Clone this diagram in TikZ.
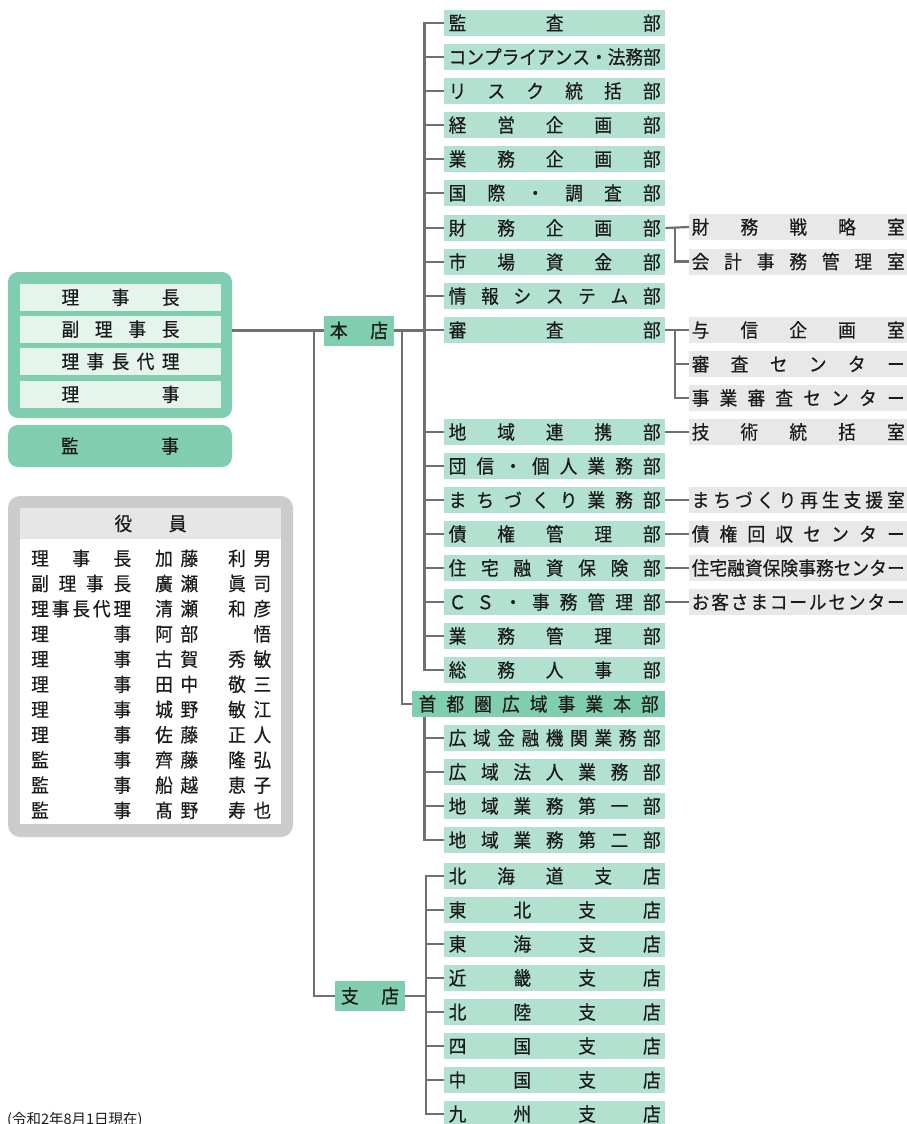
\documentclass[tikz,border=0pt]{standalone}
\usepackage{fontspec}
\setmainfont{Noto Sans CJK JP}[FakeStretch=0.93, FakeBold=0.4]
\newfontfamily\notefont{Noto Sans CJK JP}
\definecolor{deptc}{RGB}{178,225,208}
\definecolor{hqc}{RGB}{128,205,176}
\definecolor{rowc}{RGB}{230,244,238}
\definecolor{subc}{RGB}{232,232,232}
\definecolor{framec}{RGB}{204,204,204}
\definecolor{headc}{RGB}{230,230,230}
\definecolor{linec}{RGB}{112,112,112}
\definecolor{txtc}{RGB}{26,26,26}
\makeatletter
\def\spreadchars#1{\spr@a#1\spr@end}
\def\spr@a#1#2\spr@end{#1\if\relax\detokenize{#2}\relax\else\hfill\spr@a#2\spr@end\fi}
\makeatother
\newcommand\spreadbox[2]{\hbox to #1{\expandafter\spreadchars\expandafter{#2}}}
\newcommand\deptfont{\fontsize{19}{20}\selectfont}
\newcommand\listfont{\fontsize{19}{20}\selectfont}
\tikzset{
  conn/.style={draw=linec, line width=2.2pt},
  dept/.style={fill=deptc, minimum width=221pt, minimum height=26pt, inner sep=0pt, anchor=west, text=txtc, font=\deptfont},
  subbox/.style={fill=subc, minimum width=218pt, minimum height=26pt, inner sep=0pt, anchor=west, text=txtc, font=\deptfont},
  hq/.style={fill=hqc, inner sep=0pt, text=txtc, font=\deptfont},
  rowbox/.style={fill=rowc, minimum width=201pt, minimum height=27pt, inner sep=0pt, text=txtc, font=\deptfont},
  panel/.style={fill=hqc, rounded corners=10pt, minimum width=224pt, inner sep=0pt, text=txtc, font=\deptfont},
}
\begin{document}
\begin{tikzpicture}[x=1pt,y=-1pt]
\useasboundingbox (0,0) rectangle (907,1124);
% left panel
\node[panel, minimum height=146pt] (board) at (120,345) {};
\node[rowbox] (r1) at (120.5,297.3) {\spreadbox{118pt}{理事長}};
\node[rowbox] (r2) at (120.5,329.2) {\spreadbox{118pt}{副理事長}};
\node[rowbox] (r3) at (120.5,361.4) {\spreadbox{118pt}{理事長代理}};
\node[rowbox] (r4) at (120.5,394.3) {\spreadbox{118pt}{理事}};
\node[panel, minimum height=42pt] (kanji) at (120,446) {\spreadbox{118pt}{監事}};
% officers
\node[fill=framec, rounded corners=12pt, minimum width=285pt, minimum height=341pt, inner sep=0pt] (ofr) at (150.5,666.5) {};
\node[fill=white, minimum width=261pt, minimum height=316pt, inner sep=0pt] (oin) at (150.5,666) {};
\node[fill=headc, minimum width=261pt, minimum height=31pt, inner sep=0pt, anchor=north, text=txtc, font=\deptfont] (ohead) at (oin.north) {\spreadbox{72pt}{役員}};
\foreach \i/\a/\b/\c in {1/理事長/加藤/利男, 2/副理事長/廣瀬/眞司, 3/理事長代理/清瀬/和彦, 4/理事/阿部/{}悟, 5/理事/古賀/秀敏, 6/理事/田中/敬三, 7/理事/城野/敏江, 8/理事/佐藤/正人, 9/監事/齊藤/隆弘, 10/監事/船越/恵子, 11/監事/髙野/寿也}
  \node[anchor=west, inner sep=0pt, text=txtc, font=\listfont] (o\i) at (31,{558.3+(\i-1)*25.2}) {\spreadbox{100pt}{\a}\hskip24pt\spreadbox{43pt}{\b}\hskip30pt\spreadbox{43pt}{\c}};
% hubs
\node[hq, minimum width=70pt, minimum height=30pt] (honten) at (359,330.5) {\spreadbox{58pt}{本店}};
\node[hq, minimum width=70pt, minimum height=30pt] (shiten) at (370,996) {\spreadbox{58pt}{支店}};
\node[hq, anchor=west, minimum width=253pt, minimum height=26pt] (shuto) at (412,704) {\spreadbox{240pt}{首都圏広域事業本部}};
% departments
\foreach \n/\y/\t in {d1/23/監査部, d2/57/コンプライアンス・法務部, d3/91/リスク統括部, d4/125/経営企画部, d5/159/業務企画部, d6/193/国際・調査部, d7/228/財務企画部, d8/262/市場資金部, d9/296/情報システム部, d10/330/審査部, d11/432/地域連携部, d12/466/団信・個人業務部, d13/500/まちづくり業務部, d14/534/債権管理部, d15/568/住宅融資保険部, d16/602/ＣＳ・事務管理部, d17/636/業務管理部, d18/670/総務人事部, k1/738/広域金融機関業務部, k2/772/広域法人業務部, k3/806/地域業務第一部, k4/840/地域業務第二部, b1/876/北海道支店, b2/910/東北支店, b3/944/東海支店, b4/978/近畿支店, b5/1012/北陸支店, b6/1046/四国支店, b7/1080/中国支店, b8/1114/九州支店}
  \node[dept] (\n) at (444,\y) {\spreadbox{212pt}{\t}};
% sub offices
\foreach \n/\y/\t in {s1/227/財務戦略室, s2/261.5/会計事務管理室, s3/330/与信企画室, s4/364/審査センター, s5/398/事業審査センター, s6/432/技術統括室, s7/500/まちづくり再生支援室, s8/534/債権回収センター, s9/568/住宅融資保険事務センター, s10/602/お客さまコールセンター}
  \node[subbox] (\n) at (689,\y) {\spreadbox{213pt}{\t}};
% connector columns
\coordinate (c1) at (314,0);
\coordinate (c2) at (402,0);
\coordinate (t1) at (424.5,0);
\coordinate (t3) at (426,0);
\coordinate (t4) at (675,0);
% connectors
\draw[conn] (board.east |- honten.west) -- (honten.west);
\draw[conn] (c1 |- honten.west) |- (shiten.west);
\draw[conn] (honten.east) -- (t1 |- honten.east);
\draw[conn] (c2 |- honten.east) |- (shuto.west);
\draw[conn] (d1.west) -| (t1 |- d18.west) -- (d18.west);
\foreach \n in {d2,d3,d4,d5,d6,d7,d8,d9,d10,d11,d12,d13,d14,d15,d16,d17}
  \draw[conn] (t1 |- \n.west) -- (\n.west);
\draw[conn] (t1 |- shuto.south) |- (k4.west);
\foreach \n in {k1,k2,k3}
  \draw[conn] (t1 |- \n.west) -- (\n.west);
\draw[conn] (shiten.east) -- (t3 |- shiten.east);
\draw[conn] (b1.west) -| (t3 |- b8.west) -- (b8.west);
\foreach \n in {b2,b3,b4,b5,b6,b7}
  \draw[conn] (t3 |- \n.west) -- (\n.west);
\draw[conn] (d7.east) -- (s1.west);
\draw[conn] (t4 |- d7.east) |- (s2.west);
\draw[conn] (d10.east) -- (s3.west);
\draw[conn] (t4 |- d10.east) |- (s5.west);
\draw[conn] (t4 |- s4.west) -- (s4.west);
\draw[conn] (d11.east) -- (s6.west);
\draw[conn] (d13.east) -- (s7.west);
\draw[conn] (d14.east) -- (s8.west);
\draw[conn] (d15.east) -- (s9.west);
\draw[conn] (d16.east) -- (s10.west);
% note
\node[anchor=base west, inner sep=0pt, text=txtc, font=\notefont\fontsize{14.5}{15}\selectfont] (note) at (7,1124) {(令和2年8月1日現在)};
\end{tikzpicture}
\end{document}
